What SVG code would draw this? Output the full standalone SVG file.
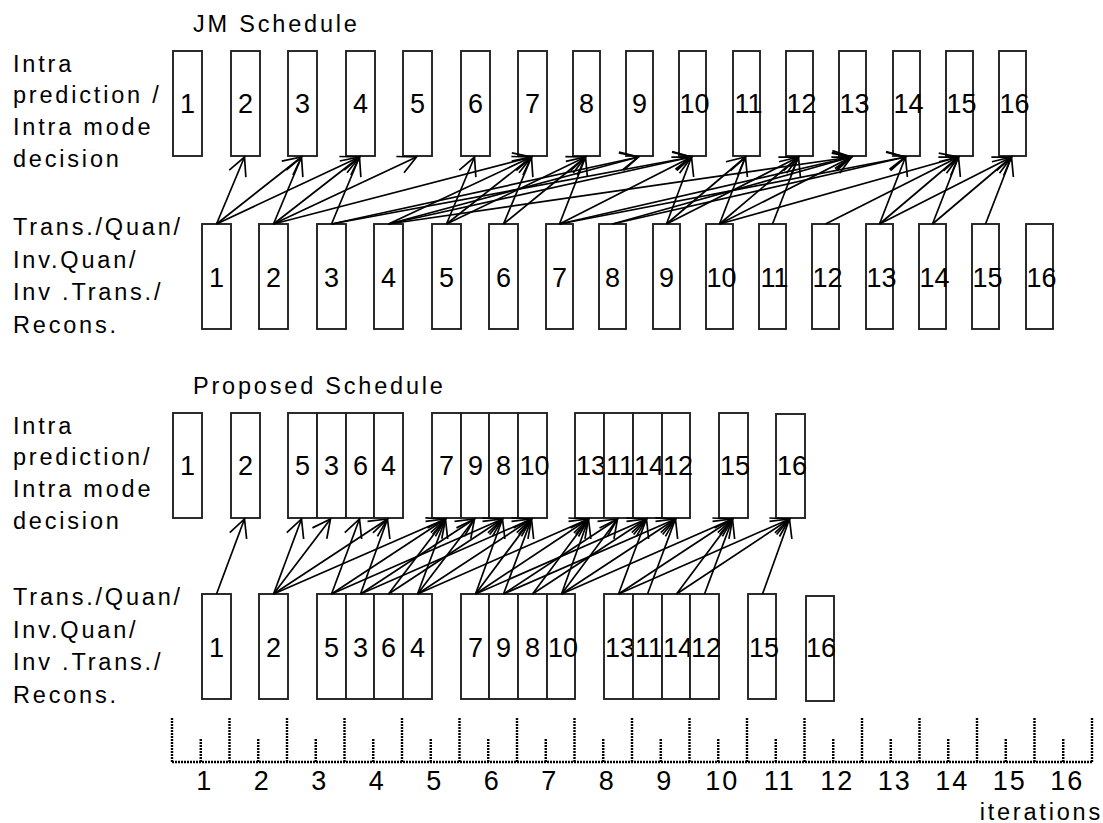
<svg xmlns="http://www.w3.org/2000/svg" width="1103" height="823" viewBox="0 0 1103 823">
<style>
text{font-family:"Liberation Sans",Arial,sans-serif;fill:#000}
.lbl{font-size:23.5px;letter-spacing:2.8px}
.num{font-size:27px;text-anchor:middle}
.box{fill:#fff;stroke:#222;stroke-width:1.9}
.ax{font-size:27px;letter-spacing:2px;text-anchor:middle}
.dot{stroke:#000;stroke-width:2.4;stroke-dasharray:2 1;fill:none}
.cn line{stroke:#000;stroke-width:1.7;marker-end:url(#ah)}
</style>
<defs>
<marker id="ah" markerUnits="userSpaceOnUse" markerWidth="40" markerHeight="40" viewBox="-20 -20 40 40" refX="0" refY="0" orient="auto" overflow="visible">
<path d="M-18,-9 L0,0 L-18,9" fill="none" stroke="#000" stroke-width="1.7"/>
</marker>
</defs>
<rect width="1103" height="823" fill="#fff"/>

<g id="labels">
<text class="lbl" x="193" y="32">JM Schedule</text>
<text class="lbl" x="13" y="72">Intra</text>
<text class="lbl" x="13" y="103">prediction /</text>
<text class="lbl" x="13" y="135">Intra mode</text>
<text class="lbl" x="13" y="167">decision</text>
<text class="lbl" x="13" y="235">Trans./Quan/</text>
<text class="lbl" x="13" y="268">Inv.Quan/</text>
<text class="lbl" x="13" y="300">Inv .Trans./</text>
<text class="lbl" x="13" y="333">Recons.</text>
<text class="lbl" x="193" y="394">Proposed Schedule</text>
<text class="lbl" x="13" y="434">Intra</text>
<text class="lbl" x="13" y="465">prediction/</text>
<text class="lbl" x="13" y="497">Intra mode</text>
<text class="lbl" x="13" y="529">decision</text>
<text class="lbl" x="13" y="605">Trans./Quan/</text>
<text class="lbl" x="13" y="638">Inv.Quan/</text>
<text class="lbl" x="13" y="670">Inv .Trans./</text>
<text class="lbl" x="13" y="703">Recons.</text>
</g>

<g id="jm-ip-1"><rect class="box" x="173" y="51" width="29" height="105"/><text class="num" x="187.5" y="113">1</text></g>
<g id="jm-ip-2"><rect class="box" x="231" y="51" width="29" height="105"/><text class="num" x="245.5" y="113">2</text></g>
<g id="jm-ip-3"><rect class="box" x="288" y="51" width="29" height="105"/><text class="num" x="302.5" y="113">3</text></g>
<g id="jm-ip-4"><rect class="box" x="346" y="51" width="29" height="105"/><text class="num" x="360.5" y="113">4</text></g>
<g id="jm-ip-5"><rect class="box" x="403" y="51" width="29" height="105"/><text class="num" x="417.5" y="113">5</text></g>
<g id="jm-ip-6"><rect class="box" x="461" y="51" width="29" height="105"/><text class="num" x="475.5" y="113">6</text></g>
<g id="jm-ip-7"><rect class="box" x="518" y="51" width="29" height="105"/><text class="num" x="532.5" y="113">7</text></g>
<g id="jm-ip-8"><rect class="box" x="573" y="51" width="27" height="105"/><text class="num" x="586.5" y="113">8</text></g>
<g id="jm-ip-9"><rect class="box" x="626" y="51" width="27" height="105"/><text class="num" x="639.5" y="113">9</text></g>
<g id="jm-ip-10"><rect class="box" x="679" y="51" width="27" height="105"/><text class="num" x="694.5" y="113">10</text></g>
<g id="jm-ip-11"><rect class="box" x="733" y="51" width="27" height="105"/><text class="num" x="748.5" y="113">11</text></g>
<g id="jm-ip-12"><rect class="box" x="786" y="51" width="27" height="105"/><text class="num" x="801.5" y="113">12</text></g>
<g id="jm-ip-13"><rect class="box" x="839" y="51" width="27" height="105"/><text class="num" x="854.5" y="113">13</text></g>
<g id="jm-ip-14"><rect class="box" x="893" y="51" width="27" height="105"/><text class="num" x="908.5" y="113">14</text></g>
<g id="jm-ip-15"><rect class="box" x="946" y="51" width="27" height="105"/><text class="num" x="961.5" y="113">15</text></g>
<g id="jm-ip-16"><rect class="box" x="999" y="51" width="27" height="105"/><text class="num" x="1014.5" y="113">16</text></g>

<g id="jm-tq-1"><rect class="box" x="202" y="224" width="29" height="105"/><text class="num" x="216.5" y="287">1</text></g>
<g id="jm-tq-2"><rect class="box" x="259" y="224" width="29" height="105"/><text class="num" x="273.5" y="287">2</text></g>
<g id="jm-tq-3"><rect class="box" x="317" y="224" width="29" height="105"/><text class="num" x="331.5" y="287">3</text></g>
<g id="jm-tq-4"><rect class="box" x="374" y="224" width="29" height="105"/><text class="num" x="388.5" y="287">4</text></g>
<g id="jm-tq-5"><rect class="box" x="432" y="224" width="29" height="105"/><text class="num" x="446.5" y="287">5</text></g>
<g id="jm-tq-6"><rect class="box" x="489" y="224" width="29" height="105"/><text class="num" x="503.5" y="287">6</text></g>
<g id="jm-tq-7"><rect class="box" x="546" y="224" width="27" height="105"/><text class="num" x="559.5" y="287">7</text></g>
<g id="jm-tq-8"><rect class="box" x="599" y="224" width="27" height="105"/><text class="num" x="612.5" y="287">8</text></g>
<g id="jm-tq-9"><rect class="box" x="653" y="224" width="27" height="105"/><text class="num" x="666.5" y="287">9</text></g>
<g id="jm-tq-10"><rect class="box" x="706" y="224" width="27" height="105"/><text class="num" x="721.5" y="287">10</text></g>
<g id="jm-tq-11"><rect class="box" x="759" y="224" width="27" height="105"/><text class="num" x="774.5" y="287">11</text></g>
<g id="jm-tq-12"><rect class="box" x="812" y="224" width="27" height="105"/><text class="num" x="827.5" y="287">12</text></g>
<g id="jm-tq-13"><rect class="box" x="866" y="224" width="27" height="105"/><text class="num" x="881.5" y="287">13</text></g>
<g id="jm-tq-14"><rect class="box" x="919" y="224" width="27" height="105"/><text class="num" x="934.5" y="287">14</text></g>
<g id="jm-tq-15"><rect class="box" x="972" y="224" width="27" height="105"/><text class="num" x="987.5" y="287">15</text></g>
<g id="jm-tq-16"><rect class="box" x="1026" y="224" width="27" height="105"/><text class="num" x="1041.5" y="287">16</text></g>

<g id="pr-ip-1"><rect class="box" x="173" y="413" width="29" height="105"/><text class="num" x="187.5" y="475">1</text></g>
<g id="pr-ip-2"><rect class="box" x="231" y="413" width="29" height="105"/><text class="num" x="245.5" y="475">2</text></g>
<g id="pr-ip-5"><rect class="box" x="288" y="413" width="29" height="105"/><text class="num" x="302.5" y="475">5</text></g>
<g id="pr-ip-3"><rect class="box" x="317" y="413" width="29" height="105"/><text class="num" x="331.5" y="475">3</text></g>
<g id="pr-ip-6"><rect class="box" x="346" y="413" width="28" height="105"/><text class="num" x="360.5" y="475">6</text></g>
<g id="pr-ip-4"><rect class="box" x="374" y="413" width="29" height="105"/><text class="num" x="388.5" y="475">4</text></g>
<g id="pr-ip-7"><rect class="box" x="432" y="413" width="29" height="105"/><text class="num" x="446.5" y="475">7</text></g>
<g id="pr-ip-9"><rect class="box" x="461" y="413" width="28" height="105"/><text class="num" x="475.5" y="475">9</text></g>
<g id="pr-ip-8"><rect class="box" x="489" y="413" width="29" height="105"/><text class="num" x="503.5" y="475">8</text></g>
<g id="pr-ip-10"><rect class="box" x="518" y="413" width="29" height="105"/><text class="num" x="534.5" y="475">10</text></g>
<g id="pr-ip-13"><rect class="box" x="575" y="413" width="29" height="105"/><text class="num" x="591" y="475">13</text></g>
<g id="pr-ip-11"><rect class="box" x="604" y="413" width="29" height="105"/><text class="num" x="620" y="475">11</text></g>
<g id="pr-ip-14"><rect class="box" x="633" y="413" width="29" height="105"/><text class="num" x="649" y="475">14</text></g>
<g id="pr-ip-12"><rect class="box" x="662" y="413" width="28" height="105"/><text class="num" x="678" y="475">12</text></g>
<g id="pr-ip-15"><rect class="box" x="719" y="413" width="29" height="105"/><text class="num" x="735" y="475">15</text></g>
<g id="pr-ip-16"><rect class="box" x="776" y="414" width="29" height="104"/><text class="num" x="792" y="475">16</text></g>

<g id="pr-tq-1"><rect class="box" x="202" y="594" width="29" height="105"/><text class="num" x="216.5" y="657">1</text></g>
<g id="pr-tq-2"><rect class="box" x="259" y="594" width="29" height="105"/><text class="num" x="273.5" y="657">2</text></g>
<g id="pr-tq-5"><rect class="box" x="317" y="594" width="29" height="105"/><text class="num" x="331.5" y="657">5</text></g>
<g id="pr-tq-3"><rect class="box" x="346" y="594" width="28" height="105"/><text class="num" x="360.5" y="657">3</text></g>
<g id="pr-tq-6"><rect class="box" x="374" y="594" width="29" height="105"/><text class="num" x="388.5" y="657">6</text></g>
<g id="pr-tq-4"><rect class="box" x="403" y="594" width="29" height="105"/><text class="num" x="417.5" y="657">4</text></g>
<g id="pr-tq-7"><rect class="box" x="461" y="594" width="28" height="105"/><text class="num" x="475.5" y="657">7</text></g>
<g id="pr-tq-9"><rect class="box" x="489" y="594" width="29" height="105"/><text class="num" x="503.5" y="657">9</text></g>
<g id="pr-tq-8"><rect class="box" x="518" y="594" width="29" height="105"/><text class="num" x="532.5" y="657">8</text></g>
<g id="pr-tq-10"><rect class="box" x="547" y="594" width="28" height="105"/><text class="num" x="563" y="657">10</text></g>
<g id="pr-tq-13"><rect class="box" x="604" y="594" width="29" height="105"/><text class="num" x="620" y="657">13</text></g>
<g id="pr-tq-11"><rect class="box" x="633" y="594" width="29" height="105"/><text class="num" x="649" y="657">11</text></g>
<g id="pr-tq-14"><rect class="box" x="662" y="594" width="28" height="105"/><text class="num" x="678" y="657">14</text></g>
<g id="pr-tq-12"><rect class="box" x="690" y="594" width="29" height="105"/><text class="num" x="706" y="657">12</text></g>
<g id="pr-tq-15"><rect class="box" x="748" y="594" width="28" height="105"/><text class="num" x="764" y="657">15</text></g>
<g id="pr-tq-16"><rect class="box" x="806" y="596" width="28" height="105"/><text class="num" x="821" y="657">16</text></g>

<g id="connectors" class="cn">
<line x1="216.5" y1="224" x2="244.5" y2="157"/>
<line x1="216.5" y1="224" x2="301.5" y2="157"/>
<line x1="273.5" y1="224" x2="301.5" y2="157"/>
<line x1="216.5" y1="224" x2="359.5" y2="157"/>
<line x1="273.5" y1="224" x2="359.5" y2="157"/>
<line x1="331.5" y1="224" x2="359.5" y2="157"/>
<line x1="273.5" y1="224" x2="416.5" y2="157"/>
<line x1="446.5" y1="224" x2="474.5" y2="157"/>
<line x1="273.5" y1="224" x2="531.5" y2="157"/>
<line x1="388.5" y1="224" x2="531.5" y2="157"/>
<line x1="446.5" y1="224" x2="531.5" y2="157"/>
<line x1="503.5" y1="224" x2="531.5" y2="157"/>
<line x1="446.5" y1="224" x2="585.5" y2="157"/>
<line x1="503.5" y1="224" x2="585.5" y2="157"/>
<line x1="559.5" y1="224" x2="585.5" y2="157"/>
<line x1="331.5" y1="224" x2="638.5" y2="157"/>
<line x1="388.5" y1="224" x2="638.5" y2="157"/>
<line x1="331.5" y1="224" x2="691.5" y2="157"/>
<line x1="388.5" y1="224" x2="691.5" y2="157"/>
<line x1="559.5" y1="224" x2="691.5" y2="157"/>
<line x1="666.5" y1="224" x2="691.5" y2="157"/>
<line x1="666.5" y1="224" x2="745.5" y2="157"/>
<line x1="719.5" y1="224" x2="745.5" y2="157"/>
<line x1="666.5" y1="224" x2="798.5" y2="157"/>
<line x1="719.5" y1="224" x2="798.5" y2="157"/>
<line x1="772.5" y1="224" x2="798.5" y2="157"/>
<line x1="388.5" y1="224" x2="851.5" y2="157"/>
<line x1="559.5" y1="224" x2="851.5" y2="157"/>
<line x1="612.5" y1="224" x2="851.5" y2="157"/>
<line x1="719.5" y1="224" x2="851.5" y2="157"/>
<line x1="559.5" y1="224" x2="905.5" y2="157"/>
<line x1="612.5" y1="224" x2="905.5" y2="157"/>
<line x1="879.5" y1="224" x2="905.5" y2="157"/>
<line x1="719.5" y1="224" x2="958.5" y2="157"/>
<line x1="825.5" y1="224" x2="958.5" y2="157"/>
<line x1="879.5" y1="224" x2="958.5" y2="157"/>
<line x1="932.5" y1="224" x2="958.5" y2="157"/>
<line x1="879.5" y1="224" x2="1011.5" y2="157"/>
<line x1="932.5" y1="224" x2="1011.5" y2="157"/>
<line x1="985.5" y1="224" x2="1011.5" y2="157"/>
<line x1="216.5" y1="594" x2="244.5" y2="519"/>
<line x1="273.5" y1="594" x2="330.5" y2="519"/>
<line x1="273.5" y1="594" x2="387.5" y2="519"/>
<line x1="360.5" y1="594" x2="387.5" y2="519"/>
<line x1="273.5" y1="594" x2="301.5" y2="519"/>
<line x1="331.5" y1="594" x2="359.5" y2="519"/>
<line x1="273.5" y1="594" x2="445.5" y2="519"/>
<line x1="417.5" y1="594" x2="445.5" y2="519"/>
<line x1="331.5" y1="594" x2="445.5" y2="519"/>
<line x1="388.5" y1="594" x2="445.5" y2="519"/>
<line x1="331.5" y1="594" x2="502.5" y2="519"/>
<line x1="388.5" y1="594" x2="502.5" y2="519"/>
<line x1="475.5" y1="594" x2="502.5" y2="519"/>
<line x1="360.5" y1="594" x2="474.5" y2="519"/>
<line x1="417.5" y1="594" x2="474.5" y2="519"/>
<line x1="360.5" y1="594" x2="531.5" y2="519"/>
<line x1="417.5" y1="594" x2="531.5" y2="519"/>
<line x1="475.5" y1="594" x2="531.5" y2="519"/>
<line x1="503.5" y1="594" x2="531.5" y2="519"/>
<line x1="503.5" y1="594" x2="617.5" y2="519"/>
<line x1="561.5" y1="594" x2="617.5" y2="519"/>
<line x1="503.5" y1="594" x2="675.5" y2="519"/>
<line x1="561.5" y1="594" x2="675.5" y2="519"/>
<line x1="647.5" y1="594" x2="675.5" y2="519"/>
<line x1="417.5" y1="594" x2="588.5" y2="519"/>
<line x1="475.5" y1="594" x2="588.5" y2="519"/>
<line x1="532.5" y1="594" x2="588.5" y2="519"/>
<line x1="561.5" y1="594" x2="588.5" y2="519"/>
<line x1="475.5" y1="594" x2="646.5" y2="519"/>
<line x1="532.5" y1="594" x2="646.5" y2="519"/>
<line x1="618.5" y1="594" x2="646.5" y2="519"/>
<line x1="561.5" y1="594" x2="732.5" y2="519"/>
<line x1="704.5" y1="594" x2="732.5" y2="519"/>
<line x1="618.5" y1="594" x2="732.5" y2="519"/>
<line x1="676.5" y1="594" x2="732.5" y2="519"/>
<line x1="618.5" y1="594" x2="789.5" y2="519"/>
<line x1="676.5" y1="594" x2="789.5" y2="519"/>
<line x1="762.5" y1="594" x2="789.5" y2="519"/>
</g>

<g id="axis">
<path class="dot" d="M172,762 H1092 M172,718 V762 M229.5,718 V762 M287,718 V762 M344.5,718 V762 M402,718 V762 M459.5,718 V762 M517,718 V762 M574.5,718 V762 M632,718 V762 M689.5,718 V762 M747,718 V762 M804.5,718 V762 M862,718 V762 M919.5,718 V762 M977,718 V762 M1034.5,718 V762 M1092,718 V762 M200.75,739 V762 M258.25,739 V762 M315.75,739 V762 M373.25,739 V762 M430.75,739 V762 M488.25,739 V762 M545.75,739 V762 M603.25,739 V762 M660.75,739 V762 M718.25,739 V762 M775.75,739 V762 M833.25,739 V762 M890.75,739 V762 M948.25,739 V762 M1005.75,739 V762 M1063.25,739 V762"/>
<text class="ax" x="204.75" y="790">1</text>
<text class="ax" x="262.25" y="790">2</text>
<text class="ax" x="319.75" y="790">3</text>
<text class="ax" x="377.25" y="790">4</text>
<text class="ax" x="434.75" y="790">5</text>
<text class="ax" x="492.25" y="790">6</text>
<text class="ax" x="549.75" y="790">7</text>
<text class="ax" x="607.25" y="790">8</text>
<text class="ax" x="664.75" y="790">9</text>
<text class="ax" x="722.25" y="790">10</text>
<text class="ax" x="779.75" y="790">11</text>
<text class="ax" x="837.25" y="790">12</text>
<text class="ax" x="894.75" y="790">13</text>
<text class="ax" x="952.25" y="790">14</text>
<text class="ax" x="1009.75" y="790">15</text>
<text class="ax" x="1067.25" y="790">16</text>
<text class="lbl" x="1103" y="820" text-anchor="end">iterations</text>
</g>
</svg>
